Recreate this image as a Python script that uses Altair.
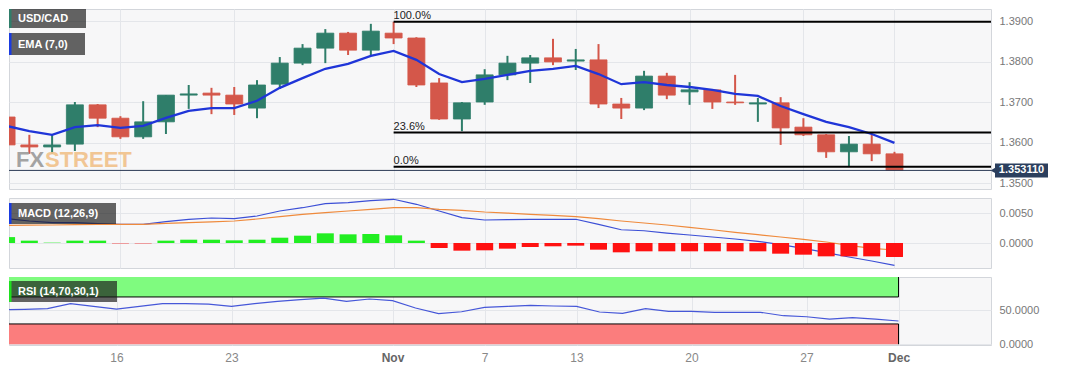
import altair as alt
import pandas as pd

# ---------------- data ----------------
dates = ["2023-10-09", "2023-10-10", "2023-10-11", "2023-10-12", "2023-10-13",
         "2023-10-16", "2023-10-17", "2023-10-18", "2023-10-19", "2023-10-20",
         "2023-10-23", "2023-10-24", "2023-10-25", "2023-10-26", "2023-10-27",
         "2023-10-30", "2023-10-31", "2023-11-01", "2023-11-02", "2023-11-03",
         "2023-11-06", "2023-11-07", "2023-11-08", "2023-11-09", "2023-11-10",
         "2023-11-13", "2023-11-14", "2023-11-15", "2023-11-16", "2023-11-17",
         "2023-11-20", "2023-11-21", "2023-11-22", "2023-11-23", "2023-11-24",
         "2023-11-27", "2023-11-28", "2023-11-29", "2023-11-30", "2023-12-01"]

open_p = [1.3663, 1.3594, 1.3589, 1.3596, 1.3693, 1.3660, 1.3614, 1.3651, 1.3717, 1.3722,
          1.3717, 1.3685, 1.3744, 1.3796, 1.3833, 1.3870, 1.3828, 1.3870, 1.3858, 1.3747,
          1.3658, 1.3700, 1.3767, 1.3796, 1.3809, 1.3801, 1.3804, 1.3695, 1.3685, 1.3764,
          1.3725, 1.3730, 1.3700, 1.3695, 1.3698, 1.3638, 1.3619, 1.3577, 1.3596, 1.3572]
high_p = [1.3683, 1.3619, 1.3621, 1.3700, 1.3695, 1.3665, 1.3702, 1.3717, 1.3742, 1.3735,
          1.3737, 1.3754, 1.3811, 1.3843, 1.3880, 1.3873, 1.3893, 1.3898, 1.3860, 1.3759,
          1.3700, 1.3781, 1.3814, 1.3816, 1.3856, 1.3831, 1.3843, 1.3710, 1.3777, 1.3772,
          1.3749, 1.3732, 1.3767, 1.3710, 1.3712, 1.3660, 1.3621, 1.3616, 1.3621, 1.3577]
low_p = [1.3584, 1.3572, 1.3572, 1.3579, 1.3638, 1.3609, 1.3609, 1.3621, 1.3683, 1.3670,
         1.3668, 1.3660, 1.3732, 1.3791, 1.3796, 1.3816, 1.3816, 1.3843, 1.3737, 1.3656,
         1.3628, 1.3693, 1.3754, 1.3747, 1.3791, 1.3779, 1.3685, 1.3658, 1.3680, 1.3707,
         1.3693, 1.3683, 1.3693, 1.3651, 1.3594, 1.3616, 1.3562, 1.3542, 1.3554, 1.3530]
close_p = [1.3594, 1.3589, 1.3594, 1.3693, 1.3660, 1.3614, 1.3651, 1.3717, 1.3720, 1.3717,
           1.3695, 1.3742, 1.3796, 1.3833, 1.3870, 1.3828, 1.3875, 1.3858, 1.3742, 1.3658,
           1.3698, 1.3767, 1.3796, 1.3809, 1.3799, 1.3804, 1.3695, 1.3685, 1.3764, 1.3717,
           1.3730, 1.3700, 1.3698, 1.3698, 1.3636, 1.3619, 1.3577, 1.3596, 1.3572, 1.35311]
ema7 = [1.3641, 1.3628, 1.3619, 1.3638, 1.3643, 1.3636, 1.3641, 1.3661, 1.3678, 1.3685,
        1.3685, 1.3703, 1.3735, 1.3759, 1.3782, 1.3794, 1.3814, 1.3826, 1.3804, 1.3769,
        1.3749, 1.3757, 1.3767, 1.3777, 1.3782, 1.3789, 1.3769, 1.3744, 1.3749, 1.3742,
        1.3737, 1.3730, 1.3720, 1.3715, 1.3690, 1.3670, 1.3651, 1.3638, 1.3621, 1.3599]
macd_line = [0.00412, 0.00373, 0.00344, 0.00344, 0.00327, 0.00317, 0.00317, 0.00361, 0.00402, 0.00424,
             0.00412, 0.00458, 0.00542, 0.00598, 0.00666, 0.00683, 0.00717, 0.00741, 0.00656, 0.00542,
             0.00429, 0.00390, 0.00395, 0.00402, 0.00402, 0.00402, 0.00317, 0.00225, 0.00208, 0.00169,
             0.00136, 0.00102, 0.00068, 0.00029, -0.00029, -0.00090, -0.00164, -0.00237, -0.00305, -0.00378]
macd_signal = [0.00300, 0.00302, 0.00305, 0.00310, 0.00314, 0.00317, 0.00317, 0.00334, 0.00344, 0.00359,
               0.00373, 0.00407, 0.00446, 0.00486, 0.00514, 0.00542, 0.00571, 0.00598, 0.00598, 0.00571,
               0.00554, 0.00525, 0.00508, 0.00486, 0.00469, 0.00446, 0.00412, 0.00373, 0.00339, 0.00305,
               0.00266, 0.00225, 0.00181, 0.00141, 0.00102, 0.00063, 0.00017, -0.00039, -0.00090, -0.00119]
macd_hist = [0.00100, 0.00040, 0.00006, 0.00040, 0.00040, -0.00006, -0.00006, 0.00040, 0.00056, 0.00056,
             0.00045, 0.00056, 0.00090, 0.00124, 0.00164, 0.00147, 0.00153, 0.00130, 0.00040, -0.00085,
             -0.00130, -0.00124, -0.00096, -0.00068, -0.00056, -0.00045, -0.00113, -0.00158, -0.00141, -0.00141,
             -0.00141, -0.00141, -0.00141, -0.00141, -0.00181, -0.00198, -0.00226, -0.00226, -0.00226, -0.00237]
rsi14 = [51.1, 51.7, 52.6, 60.0, 56.1, 52.1, 56.1, 60.0, 60.0, 59.5,
         56.1, 60.0, 63.5, 66.0, 68.4, 63.5, 67.0, 64.5, 53.6, 45.2,
         48.1, 54.6, 56.1, 57.6, 56.6, 56.1, 47.7, 45.8, 52.6, 48.7,
         48.7, 47.3, 47.3, 47.3, 42.2, 40.7, 37.3, 39.3, 37.3, 34.4]

fib_labels = ["100.0%", "23.6%", "0.0%"]
fib_levels = [1.3898, 1.36245, 1.35402]
fib_anchor = "2023-11-01"

tick_dates = ["2023-10-16", "2023-10-23", "2023-11-01", "2023-11-07",
              "2023-11-13", "2023-11-20", "2023-11-27", "2023-12-01"]
tick_labels = ["16", "23", "Nov", "7", "13", "20", "27", "Dec"]
bold_ticks = ["Nov", "Dec"]

price_ticks = [1.35, 1.36, 1.37, 1.38, 1.39]
macd_ticks = [0.0, 0.005]
rsi_ticks = [0, 50]
rsi_band_names = ["overbought", "oversold"]
rsi_band_lo = [70, 0]
rsi_band_hi = [100, 30]

# ---------------- layout / style ----------------
W = 982
H_MAIN, H_MACD, H_RSI = 180, 70, 68
X_DOM = [0.326, 43.02]
MAIN_DOM = [1.348519, 1.392963]
MACD_DOM = [-0.004237, 0.007627]
RSI_DOM = [-1.2, 99.6]

FONT = "Liberation Sans, Arial, Helvetica, sans-serif"
GREEN, RED = "#2f7e6a", "#d4574a"
HGREEN, HRED = "#22ee22", "#ff1111"
OB_GREEN, OS_RED = "#7ffb7f", "#fb7d7d"
EMA_BLUE = "#1f35d8"
BOX = "#1a1a1a"
TAG = "#2b3f5e"

n = len(dates)
df = pd.DataFrame({
    "i": list(range(n)), "date": dates,
    "open": open_p, "high": high_p, "low": low_p, "close": close_p,
    "ema": ema7, "macd": macd_line, "signal": macd_signal, "hist": macd_hist, "rsi": rsi14,
})
df["dir"] = ["up" if c >= o else "down" for o, c in zip(open_p, close_p)]
df["hdir"] = ["pos" if h >= 0 else "neg" for h in macd_hist]

tick_idx = [dates.index(d) for d in tick_dates]
label_expr = "''"
for ti, tl in reversed(list(zip(tick_idx, tick_labels))):
    label_expr = f"datum.value == {ti} ? '{tl}' : ({label_expr})"
bold_test = " || ".join(f"datum.value == {ti}" for ti, tl in zip(tick_idx, tick_labels) if tl in bold_ticks)

# one shared colour scale for every panel (concat views share colour scales)
color_scale = alt.Scale(domain=["up", "down", "pos", "neg"] + rsi_band_names,
                        range=[GREEN, RED, HGREEN, HRED, OB_GREEN, OS_RED])
xs = alt.Scale(domain=X_DOM, nice=False, zero=False)
x_grid_axis = alt.Axis(values=tick_idx, labels=False, ticks=False, domain=False, title=None)


def X(field="i", axis=x_grid_axis):
    return alt.X(f"{field}:Q", scale=xs, axis=axis)


def legend_box(label, accent, y0, y1, x1):
    d = pd.DataFrame({"label": [label]})
    box = alt.Chart(d).mark_rect(color=BOX, opacity=0.68).encode(
        x=alt.value(0), x2=alt.value(x1), y=alt.value(y0), y2=alt.value(y1))
    bar = alt.Chart(d).mark_rect(color=accent).encode(
        x=alt.value(0), x2=alt.value(2.5), y=alt.value(y0), y2=alt.value(y1))
    txt = alt.Chart(d).mark_text(align="left", baseline="middle", color="white",
                                 fontSize=11, fontWeight="bold", font=FONT).encode(
        x=alt.value(9), y=alt.value((y0 + y1) / 2 + 0.5), text="label:N")
    return [box, bar, txt]


# ---------------- main price panel ----------------
ys_main = alt.Scale(domain=MAIN_DOM, nice=False, zero=False)
price_axis = alt.Axis(orient="right", values=price_ticks, format=".4f", ticks=False, domain=False,
                      labelPadding=8, title=None)
base = alt.Chart(df)
wicks = base.mark_rule(strokeWidth=2, clip=True).encode(
    x=X(), y=alt.Y("low:Q", scale=ys_main, axis=price_axis), y2="high:Q",
    color=alt.Color("dir:N", scale=color_scale, legend=None))
bodies = base.mark_bar(width=17, clip=True, strokeWidth=1, strokeOpacity=0.8).encode(
    x=X(), y=alt.Y("open:Q", scale=ys_main, axis=price_axis), y2="close:Q",
    color=alt.Color("dir:N", scale=color_scale, legend=None),
    stroke=alt.Stroke("dir:N", scale=color_scale, legend=None))
ema_line = base.mark_line(color=EMA_BLUE, strokeWidth=2.3, clip=True).encode(
    x=X(), y=alt.Y("ema:Q", scale=ys_main, axis=price_axis))

fib_df = pd.DataFrame({"label": fib_labels, "level": fib_levels,
                       "start": [dates.index(fib_anchor)] * len(fib_levels)})
fib_rules = alt.Chart(fib_df).mark_rule(color="black", strokeWidth=2, clip=True).encode(
    x=X("start"), x2=alt.value(W), y=alt.Y("level:Q", scale=ys_main, axis=price_axis))
fib_text = alt.Chart(fib_df).mark_text(align="left", baseline="bottom", dy=-1, fontSize=11,
                                       color="#222222", font=FONT).encode(
    x=X("start"), y=alt.Y("level:Q", scale=ys_main, axis=price_axis), text="label:N")

cur_df = pd.DataFrame({"price": [close_p[-1]]})
cur_line = alt.Chart(cur_df).mark_rule(color="#2b3a55", strokeWidth=1).encode(
    x=alt.value(0), x2=alt.value(W), y=alt.Y("price:Q", scale=ys_main, axis=price_axis))
tag_box = alt.Chart(cur_df).mark_rule(color=TAG, strokeWidth=14, strokeCap="butt").encode(
    x=alt.value(W + 4), x2=alt.value(W + 57), y=alt.Y("price:Q", scale=ys_main, axis=price_axis))
tag_arrow = alt.Chart(cur_df).mark_point(shape="triangle-left", filled=True, size=45,
                                         color=TAG, opacity=1).encode(
    x=alt.value(W + 2.5), y=alt.Y("price:Q", scale=ys_main, axis=price_axis))
tag_text = alt.Chart(cur_df).mark_text(color="white", fontSize=11, fontWeight="bold", font=FONT,
                                       baseline="middle").encode(
    x=alt.value(W + 30.5), y=alt.Y("price:Q", scale=ys_main, axis=price_axis),
    text=alt.Text("price:Q", format=".6f"))

wm_df = pd.DataFrame({"a": ["FX"], "b": ["STREET"]})
WM_FONT = "Liberation Sans, Arial, sans-serif"
wm_fx = alt.Chart(wm_df).mark_text(align="left", baseline="alphabetic", fontSize=22, fontWeight="bold",
                                   font=WM_FONT, color="#9c9c9c", opacity=0.92).encode(
    x=alt.value(7), y=alt.value(158), text="a:N")
wm_st = alt.Chart(wm_df).mark_text(align="left", baseline="alphabetic", fontSize=22, fontWeight="bold",
                                   font=WM_FONT, color="#f1c28c", opacity=0.92).encode(
    x=alt.value(36), y=alt.value(158), text="b:N")

main = alt.layer(
    wicks, bodies, wm_fx, wm_st, ema_line, cur_line, fib_rules, fib_text,
    *legend_box("USD/CAD", GREEN, 0, 19, 77),
    *legend_box("EMA (7,0)", "#1a3be0", 24, 46, 76),
    tag_box, tag_arrow, tag_text,
).properties(width=W, height=H_MAIN)

# ---------------- MACD panel ----------------
ys_macd = alt.Scale(domain=MACD_DOM, nice=False, zero=False)
macd_axis = alt.Axis(orient="right", values=macd_ticks, format=".4f", ticks=False, domain=False,
                     labelPadding=8, title=None)
macd_l = base.mark_line(color="#3c4fd6", strokeWidth=1.2, clip=True).encode(
    x=X(), y=alt.Y("macd:Q", scale=ys_macd, axis=macd_axis))
sig_l = base.mark_line(color="#ef8a3c", strokeWidth=1.2, clip=True).encode(
    x=X(), y=alt.Y("signal:Q", scale=ys_macd, axis=macd_axis))
hist_b = base.mark_bar(width=17, clip=True).encode(
    x=X(), y=alt.Y("hist:Q", scale=ys_macd, axis=macd_axis), y2=alt.datum(0),
    color=alt.Color("hdir:N", scale=color_scale, legend=None))
macd = alt.layer(
    macd_l, sig_l, hist_b,
    *legend_box("MACD (12,26,9)", "#1a3be0", 5, 26, 107),
).properties(width=W, height=H_MACD)

# ---------------- RSI panel ----------------
ys_rsi = alt.Scale(domain=RSI_DOM, nice=False, zero=False)
rsi_axis = alt.Axis(orient="right", values=rsi_ticks, format=".4f", ticks=False, domain=False,
                    labelPadding=8, title=None)
x_bottom_axis = alt.Axis(values=tick_idx, labelExpr=label_expr, ticks=False, domain=False, title=None,
                         labelPadding=7, labelFontSize=12,
                         labelFontWeight={"condition": {"test": bold_test, "value": "bold"}, "value": "normal"},
                         labelColor={"condition": {"test": bold_test, "value": "#666666"}, "value": "#888888"})
band_df = pd.DataFrame({"band": rsi_band_names, "lo": rsi_band_lo, "hi": rsi_band_hi,
                        "end": [n - 1] * len(rsi_band_names)})
band_base = alt.Chart(band_df).transform_calculate(x0="-1")
bands = band_base.mark_rect(clip=True).encode(
    x=X("x0", x_bottom_axis), x2="end:Q",
    y=alt.Y("lo:Q", scale=ys_rsi, axis=rsi_axis), y2="hi:Q",
    color=alt.Color("band:N", scale=color_scale, legend=None))
band_edge_70 = band_base.transform_filter("datum.band == 'overbought'").mark_rule(
    color="black", strokeWidth=1, clip=True).encode(
    x=X("x0", x_bottom_axis), x2="end:Q", y=alt.Y("lo:Q", scale=ys_rsi, axis=rsi_axis))
band_edge_30 = band_base.transform_filter("datum.band == 'oversold'").mark_rule(
    color="black", strokeWidth=1, clip=True).encode(
    x=X("x0", x_bottom_axis), x2="end:Q", y=alt.Y("hi:Q", scale=ys_rsi, axis=rsi_axis))
band_right = band_base.mark_rule(color="black", strokeWidth=1, clip=True).encode(
    x=X("end", x_bottom_axis), y=alt.Y("lo:Q", scale=ys_rsi, axis=rsi_axis), y2="hi:Q")
rsi_l = base.mark_line(color="#4657d8", strokeWidth=1.2, clip=True).encode(
    x=X("i", x_bottom_axis), y=alt.Y("rsi:Q", scale=ys_rsi, axis=rsi_axis))
rsi = alt.layer(
    bands, band_edge_70, band_edge_30, band_right, rsi_l,
    *legend_box("RSI (14,70,30,1)", "#1fe01f", 4, 25, 108),
).properties(width=W, height=H_RSI)

chart = alt.vconcat(main, macd, rsi, spacing=9, bounds="flush").properties(
    padding=0, background="white"
).configure_view(
    fill="#f7f7f8", stroke="#d3d6db", strokeWidth=1
).configure_axis(
    gridColor="#e4e6ea", gridWidth=1, labelFont=FONT, labelColor="#777777", labelFontSize=11
)

chart.save("out.html", embed_options={"renderer": "svg", "actions": False})
